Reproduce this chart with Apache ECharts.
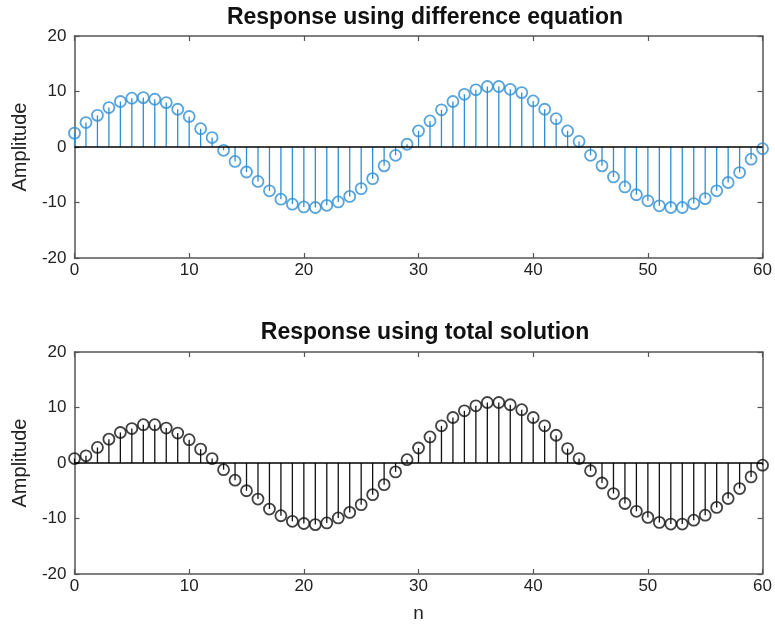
<!DOCTYPE html>
<html>
<head>
<meta charset="utf-8">
<script src="https://cdn.jsdelivr.net/npm/echarts@6/dist/echarts.min.js"></script>
<style>
html,body{margin:0;padding:0;background:#fff;}
#chart{width:775px;height:636px;}
</style>
</head>
<body>
<div id="chart"></div>
<script>
const nValues = [0,1,2,3,4,5,6,7,8,9,10,11,12,13,14,15,16,17,18,19,20,21,22,23,24,25,26,27,28,29,30,31,32,33,34,35,36,37,38,39,40,41,42,43,44,45,46,47,48,49,50,51,52,53,54,55,56,57,58,59,60];
const diffEq = [2.5,4.4,5.7,7.1,8.2,8.8,8.9,8.6,8.0,6.8,5.5,3.3,1.7,-0.6,-2.6,-4.5,-6.2,-7.9,-9.4,-10.3,-10.8,-10.9,-10.5,-9.9,-8.9,-7.5,-5.7,-3.4,-1.5,0.5,2.9,4.7,6.7,8.2,9.5,10.3,10.9,10.9,10.4,9.8,8.3,6.8,5.1,2.9,1.0,-1.5,-3.4,-5.4,-7.2,-8.6,-9.7,-10.6,-10.9,-10.9,-10.2,-9.3,-7.9,-6.4,-4.6,-2.2,-0.3];
const totalSol = [0.8,1.3,2.8,4.3,5.5,6.2,6.9,6.9,6.3,5.4,4.2,2.5,0.8,-1.2,-3.1,-5.0,-6.5,-8.3,-9.5,-10.5,-10.9,-11.1,-10.8,-9.9,-8.9,-7.5,-5.7,-3.9,-1.6,0.6,2.7,4.7,6.7,8.2,9.4,10.3,10.9,10.9,10.5,9.6,8.2,6.7,5.0,2.6,0.8,-1.4,-3.6,-5.5,-7.3,-8.7,-9.8,-10.7,-11.0,-11.0,-10.3,-9.4,-8.0,-6.4,-4.6,-2.5,-0.4];
const titles = ['Response using difference equation','Response using total solution'];
const colors = ['#2f8fd2','#111111'];

const FONT = 'Liberation Sans';
const axisColor = '#555555';
const grids = [
  {left:74.5, right:10, top:36, height:222},
  {left:74.5, right:10, top:352, height:222}
];

function xAxes(gi, name){
  const base = {
    type:'value', gridIndex:gi, min:0, max:60, interval:10,
    axisLine:{onZero:false, lineStyle:{color:axisColor, width:1.5}},
    axisTick:{inside:true, length:5, lineStyle:{color:axisColor, width:1.2}},
    splitLine:{show:false}
  };
  return [
    Object.assign({}, base, {position:'bottom',
      axisLabel:{show:true, color:'#222', fontFamily:FONT, fontSize:17, margin:4},
      name:name||'', nameLocation:'middle', nameGap:30,
      nameTextStyle:{color:'#222', fontFamily:FONT, fontSize:19}}),
    Object.assign({}, base, {position:'top', axisLabel:{show:false}})
  ];
}
function yAxes(gi){
  const base = {
    type:'value', gridIndex:gi, min:-20, max:20, interval:10,
    axisLine:{onZero:false, lineStyle:{color:axisColor, width:1.5}},
    axisTick:{inside:true, length:5, lineStyle:{color:axisColor, width:1.2}},
    splitLine:{show:false}
  };
  return [
    Object.assign({}, base, {position:'left',
      axisLabel:{show:true, color:'#222', fontFamily:FONT, fontSize:17, margin:8},
      name:'Amplitude', nameLocation:'middle', nameGap:44, nameRotate:90,
      nameTextStyle:{color:'#222', fontFamily:FONT, fontSize:20}}),
    Object.assign({}, base, {position:'right', axisLabel:{show:false}})
  ];
}

function stemSeries(values, color, xi, yi){
  const data = values.map((v,i)=>[nValues[i], v]);
  return [
    {
      type:'custom', xAxisIndex:xi, yAxisIndex:yi, data:data, silent:true,
      renderItem:function(params, api){
        const p0 = api.coord([api.value(0), 0]);
        const p1 = api.coord([api.value(0), api.value(1)]);
        return {type:'line', shape:{x1:p0[0], y1:p0[1], x2:p1[0], y2:p1[1]},
          style:{stroke:color, lineWidth:1.3}};
      },
      z:2
    },
    {
      type:'scatter', xAxisIndex:xi, yAxisIndex:yi, data:data, silent:true,
      symbol:'circle', symbolSize:11,
      itemStyle:{color:'rgba(0,0,0,0)', borderColor:color, borderWidth:1.8},
      markLine:{
        silent:true, symbol:'none', label:{show:false},
        lineStyle:{color:'#000', width:1.6, type:'solid'},
        data:[{yAxis:0}]
      },
      z:3
    }
  ];
}

const chart = echarts.init(document.getElementById('chart'), null, {renderer:'canvas'});
chart.setOption({
  animation:false,
  backgroundColor:'#ffffff',
  title:[
    {text:titles[0], left:420, textAlign:'center', top:1,
     textStyle:{fontFamily:FONT, fontSize:23, fontWeight:'bold', color:'#111'}},
    {text:titles[1], left:420, textAlign:'center', top:316,
     textStyle:{fontFamily:FONT, fontSize:23, fontWeight:'bold', color:'#111'}}
  ],
  grid:grids,
  xAxis:[].concat(xAxes(0,''), xAxes(1,'n')),
  yAxis:[].concat(yAxes(0), yAxes(1)),
  series:[].concat(stemSeries(diffEq, colors[0], 0, 0), stemSeries(totalSol, colors[1], 2, 2))
});
</script>
</body>
</html>
